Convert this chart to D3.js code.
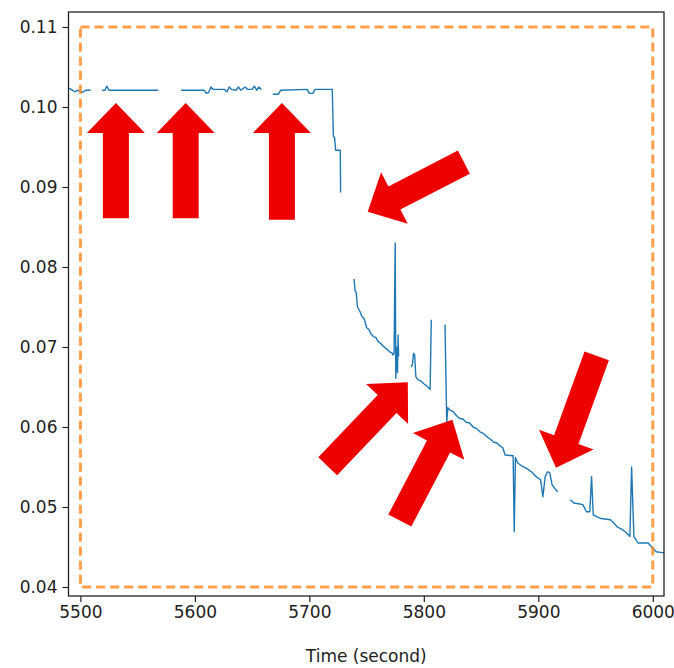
<!DOCTYPE html>
<html>
<head>
<meta charset="utf-8">
<script src="https://d3js.org/d3.v7.min.js"></script>
<style>
  body { margin: 0; background: #fff; }
  text { font-family: "DejaVu Sans", sans-serif; fill: #222; }
</style>
</head>
<body>
<div id="chart"></div>
<script>
    // line pieces, gaps between them are missing samples
    var seg1 = [[5489,0.1024],[5492,0.1022],[5495,0.1019],[5498,0.1021],[5501,0.1018],[5505,0.1021],[5509,0.1021]];
    var seg2 = [[5519,0.1021],[5521.5,0.1021],[5523,0.1026],[5525,0.1021],[5568,0.1021]];
    var seg3 = [[5588,0.1021],[5608,0.1021],[5610,0.1017],[5612,0.1018],[5614,0.1025],[5616,0.1022],[5626,0.1022],
        [5628,0.1019],[5630,0.1025],[5632,0.1022],[5636,0.1021],[5638,0.1025],[5640,0.1021],[5644,0.1025],
        [5646,0.1022],[5650,0.1022],[5652,0.1026],[5654,0.1021],[5656,0.1025],[5658,0.1022]];
    var seg4 = [[5668,0.1016],[5673,0.1016],[5675,0.1021],[5698,0.1022],[5700,0.1017],[5703,0.1017],[5705,0.1022],
        [5720,0.1022],[5721,0.0963],[5722,0.0962],[5723,0.0946],[5727,0.0946],[5727.3,0.0893]];
    var seg5 = [[5739,0.0785],[5740,0.0770],[5741,0.0768],[5742,0.0750],[5744,0.0745],[5746,0.0738],[5748,0.0735],
        [5750,0.0724],[5752,0.0722],[5754,0.0716],[5756,0.0713],[5758,0.0712],[5760,0.0707],[5762,0.0705],
        [5764,0.0702],[5766,0.0699],[5768,0.0697],[5770,0.0694],[5772,0.0693],[5773,0.0690],[5774,0.0692],
        [5775,0.0830],[5775.5,0.0661],[5776,0.0700],[5777,0.0668],[5777.5,0.0715],[5778,0.0688]];
    var seg6 = [[5789,0.0675],[5790,0.0678],[5791,0.0692],[5792,0.0690],[5793,0.0663],[5795,0.0659],[5798,0.0657],
        [5800,0.0654],[5802,0.0652],[5804,0.0649],[5805.5,0.0647],[5806.5,0.0734]];
    var seg7 = [[5818.5,0.0728],[5820,0.0606],[5821,0.0624],[5823,0.0621],[5826,0.0619],[5828,0.0615],[5831,0.0611],
        [5834,0.0610],[5837,0.0606],[5840,0.0605],[5843,0.0600],[5846,0.0598],[5849,0.0594],[5852,0.0592],
        [5855,0.0588],[5858,0.0585],[5861,0.0581],[5864,0.0580],[5866,0.0577],[5869,0.0574],[5871,0.0565],
        [5878,0.0564],[5879,0.0469],[5880,0.0562],[5882,0.0555],[5886,0.0551],[5890,0.0548],[5894,0.0544],
        [5898,0.0538],[5902,0.0534],[5904,0.0513],[5906,0.0538],[5908,0.0544],[5910,0.0543],[5912,0.0528],
        [5915,0.0522],[5917,0.0519]];
    var seg8 = [[5928,0.0509],[5931,0.0505],[5935,0.0504],[5939,0.0503],[5942,0.0494],[5945,0.0494],[5946.5,0.0538],
        [5948,0.0490],[5951,0.0488],[5954,0.0486],[5958,0.0485],[5963,0.0484],[5966,0.0480],[5969,0.0475],
        [5973,0.0472],[5976,0.0469],[5980,0.0463],[5981.5,0.0550],[5983.5,0.0463],[5985,0.0460],[5987,0.0455],
        [5996,0.0455],[5999,0.0450],[6003,0.0444],[6008,0.0443],[6012,0.0443]];
    var segments = [seg1, seg2, seg3, seg4, seg5, seg6, seg7, seg8];

    // dashed box
    var boxX = [5500, 6000];
    var boxY = [0.04, 0.11];

    // arrows: tail time, tail value, tip time, tip value
    var arrows = [
        [5531, 0.0861, 5531, 0.1005],
        [5592, 0.0861, 5592, 0.1005],
        [5676, 0.0859, 5676, 0.1005],
        [5835, 0.0931, 5751, 0.0869],
        [5716, 0.0551, 5786, 0.0656],
        [5779, 0.0483, 5825, 0.0609],
        [5951, 0.0689, 5915.5, 0.0549]
    ];

    var xTicks = [5500, 5600, 5700, 5800, 5900, 6000];
    var yTicks = [0.04, 0.05, 0.06, 0.07, 0.08, 0.09, 0.10, 0.11];
    var xLabel = "Time (second)";

    var W = 674, H = 668;
    var mLeft = 68.5, mRight = 664, mTop = 12, mBottom = 596;
    var fontSize = "17px";

    var x = d3.scaleLinear().domain([5489.6, 6009.8]).range([mLeft, mRight]);
    var y = d3.scaleLinear().domain([0.038875, 0.111875]).range([mBottom, mTop]);

    var svg = d3.select("#chart").append("svg")
        .attr("width", W).attr("height", H);

    svg.append("defs").append("clipPath").attr("id", "clip")
        .append("rect")
        .attr("x", mLeft).attr("y", mTop)
        .attr("width", mRight - mLeft).attr("height", mBottom - mTop);

    var plot = svg.append("g").attr("clip-path", "url(#clip)");

    var line = d3.line()
        .x(function (d) { return x(d[0]); })
        .y(function (d) { return y(d[1]); });

    plot.selectAll("path.series")
        .data(segments)
        .enter().append("path")
        .attr("class", "series")
        .attr("d", line)
        .attr("fill", "none")
        .attr("stroke", "#1f77b4")
        .attr("stroke-width", 1.4)
        .attr("stroke-linejoin", "round");

    // orange dashed rectangle
    var box = [[boxX[0], boxY[1]], [boxX[1], boxY[1]], [boxX[1], boxY[0]], [boxX[0], boxY[0]], [boxX[0], boxY[1]]];
    plot.append("path")
        .attr("d", line(box))
        .attr("fill", "none")
        .attr("stroke", "#ff7f0e")
        .attr("stroke-opacity", 0.75)
        .attr("stroke-width", 3)
        .attr("stroke-dasharray", "9,5");

    // red arrows
    var shaftW = 26, headW = 58, headL = 30;
    function arrowPath(a) {
        var x0 = x(a[0]), y0 = y(a[1]), x1 = x(a[2]), y1 = y(a[3]);
        var dx = x1 - x0, dy = y1 - y0, L = Math.sqrt(dx * dx + dy * dy);
        var ux = dx / L, uy = dy / L, nx = -uy, ny = ux;
        var bx = x1 - ux * headL, by = y1 - uy * headL;
        var p = [
            [x0 + nx * shaftW / 2, y0 + ny * shaftW / 2],
            [bx + nx * shaftW / 2, by + ny * shaftW / 2],
            [bx + nx * headW / 2, by + ny * headW / 2],
            [x1, y1],
            [bx - nx * headW / 2, by - ny * headW / 2],
            [bx - nx * shaftW / 2, by - ny * shaftW / 2],
            [x0 - nx * shaftW / 2, y0 - ny * shaftW / 2]
        ];
        return "M" + p.map(function (q) { return q[0].toFixed(1) + "," + q[1].toFixed(1); }).join("L") + "Z";
    }
    svg.selectAll("path.arrow")
        .data(arrows)
        .enter().append("path")
        .attr("class", "arrow")
        .attr("d", arrowPath)
        .attr("fill", "#ee0000");

    // axes
    var xAxis = svg.append("g")
        .attr("transform", "translate(0," + mBottom + ")")
        .call(d3.axisBottom(x).tickValues(xTicks).tickSize(6).tickPadding(4).tickFormat(d3.format("d")));
    var yAxis = svg.append("g")
        .attr("transform", "translate(" + mLeft + ",0)")
        .call(d3.axisLeft(y).tickValues(yTicks).tickSize(6).tickPadding(5).tickFormat(d3.format(".2f")));
    [xAxis, yAxis].forEach(function (g) {
        g.select(".domain").remove();
        g.selectAll("line").attr("stroke", "#222").attr("stroke-width", 1.2);
        g.selectAll("text").style("font-size", fontSize).style("font-family", "DejaVu Sans").attr("fill", "#222");
    });

    svg.append("rect")
        .attr("x", mLeft).attr("y", mTop)
        .attr("width", mRight - mLeft).attr("height", mBottom - mTop)
        .attr("fill", "none")
        .attr("stroke", "#222")
        .attr("stroke-width", 1.3);

    svg.append("text")
        .attr("x", (mLeft + mRight) / 2)
        .attr("y", 662)
        .attr("text-anchor", "middle")
        .style("font-size", fontSize)
        .text(xLabel);
</script>
</body>
</html>
